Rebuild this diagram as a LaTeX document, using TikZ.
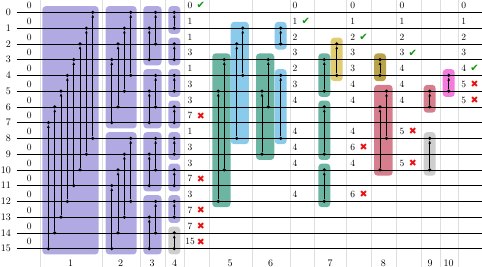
\documentclass[tikz,border=0pt]{standalone}
\usepackage{fontspec}
\newfontfamily\symf{DejaVu Sans}
\usetikzlibrary{arrows.meta}
\definecolor{cpur}{RGB}{176,169,226}
\definecolor{cgray}{RGB}{206,206,206}
\definecolor{cgreen}{RGB}{108,181,162}
\definecolor{cblue}{RGB}{138,202,234}
\definecolor{cyel}{RGB}{224,205,115}
\definecolor{coli}{RGB}{184,163,72}
\definecolor{crose}{RGB}{214,126,142}
\definecolor{cmag}{RGB}{244,122,222}
\definecolor{cgrid}{RGB}{222,222,222}
\definecolor{cok}{RGB}{10,150,10}
\definecolor{cno}{RGB}{235,15,15}
\newcommand\myblk[5]{\fill[#1,rounded corners=3.5pt] (#2,{12.4+15.75*(#4)-6.3}) rectangle (#3,{12.4+15.75*(#5)+5.8});}
\newcommand\mycmp[4]{\node[dotn] (#1t) at (#2,{12.4+15.75*(#3)}) {};
  \node[dotn] (#1b) at (#2,{12.4+15.75*(#4)}) {};
  \draw[cline] (#1b) -- (#1t);}
\newcommand\myvl[4]{\node[vtxt] (#1) at (#2,{12.4+15.75*(#3)-3.7}) {#4};}
\newcommand\markok[3]{\node[okm] (#1) at ({#2+10.8},{12.4+15.75*(#3)-3.5}) {✔};}
\newcommand\markno[3]{\node[nom] (#1) at ({#2+10.8},{12.4+15.75*(#3)-3.5}) {✖};}
\begin{document}
\begin{tikzpicture}[x=1pt,y=-1pt,
  wire/.style={line width=0.7pt, black},
  gridl/.style={line width=0.6pt, cgrid},
  dotn/.style={circle, fill=black, inner sep=0pt, minimum size=3.5pt},
  cline/.style={line width=0.95pt, -{Latex[length=3.3pt,width=2.9pt]}},
  vtxt/.style={inner sep=0pt, anchor=base, font=\fontsize{9.5}{11}\selectfont},
  okm/.style={inner sep=0pt, anchor=base, text=cok, font=\symf\fontsize{10}{11}\selectfont},
  nom/.style={inner sep=0pt, anchor=base, text=cno, font=\symf\fontsize{9.5}{11}\selectfont},
  wlab/.style={inner sep=0pt, anchor=east, font=\fontsize{10}{12}\selectfont},
  slab/.style={inner sep=0pt, anchor=base, font=\fontsize{10}{12}\selectfont}]
\useasboundingbox (0,0) rectangle (482,267);
% grid lines
\foreach \gx in {40,102.3,140,165.3,184.3,208.8,252,290.3,314.3,346.6,371.3,396,420.8,440,458.5}
  \draw[gridl] (\gx,0) -- (\gx,267);
% blocks
\myblk{cpur}{42.4}{98.7}{0}{15}
\myblk{cpur}{105.7}{136.7}{0}{7}
\myblk{cpur}{105.7}{136.7}{8}{15}
\foreach \b in {0,...,3} {\myblk{cpur}{143.3}{161.6}{4*\b}{4*\b+3}}
\foreach \b in {0,...,6} {\myblk{cpur}{168.3}{180.3}{2*\b}{2*\b+1}}
\myblk{cgray}{168.3}{180.3}{14}{15}
\myblk{cgreen}{212.3}{230.5}{3}{12}
\myblk{cblue}{230.7}{248.9}{1}{8}
\myblk{cgreen}{256}{274.3}{3}{9}
\myblk{cblue}{274.7}{286.7}{1}{2}
\myblk{cblue}{274.7}{286.7}{4}{8}
\myblk{cgreen}{318.3}{330.3}{3}{5}
\myblk{cgreen}{318.3}{330.3}{6}{9}
\myblk{cgreen}{318.3}{330.3}{10}{12}
\myblk{cyel}{330.7}{342.7}{2}{4}
\myblk{coli}{374}{386}{3}{4}
\myblk{crose}{374}{392.7}{5}{10}
\myblk{crose}{423.7}{435.7}{5}{6}
\myblk{cgray}{423.7}{435.7}{8}{10}
\myblk{cmag}{442.7}{454.7}{4}{5}
% wires
\foreach \i in {0,...,15} {
  \coordinate (ws\i) at (16.7,{12.4+15.75*\i});
  \coordinate (we\i) at (482,{12.4+15.75*\i});
  \draw[wire] (ws\i) -- (we\i);
  \node[wlab] (wl\i) at (11,{12.4+15.75*\i}) {\i};
  \myvl{vA\i}{29.3}{\i}{0}
}
% comparators
\foreach \k in {0,...,7} {
  \pgfmathsetmacro\xx{48.4+6.33*\k}
  \mycmp{a\k}{\xx}{7-\k}{15-\k}
}
\foreach \k in {0,...,3} {
  \pgfmathsetmacro\xx{111.7+6.33*\k}
  \mycmp{b\k}{\xx}{3-\k}{7-\k}
  \mycmp{bb\k}{\xx}{11-\k}{15-\k}
}
\foreach \b in {0,...,3} {
  \mycmp{cA\b}{149.3}{1+4*\b}{3+4*\b}
  \mycmp{cB\b}{155.6}{4*\b}{2+4*\b}
}
\foreach \b in {0,...,7} {\mycmp{d\b}{174.3}{2*\b}{2*\b+1}}
\mycmp{e1}{218.3}{5}{12}
\mycmp{e2}{224.3}{3}{10}
\mycmp{e3}{236.7}{2}{8}
\mycmp{e4}{242.7}{1}{4}
\mycmp{f1}{262}{5}{9}
\mycmp{f2}{268.3}{3}{6}
\mycmp{f3}{280.7}{1}{2}
\mycmp{f4}{280.7}{4}{8}
\mycmp{g1}{324.3}{3}{5}
\mycmp{g2}{324.3}{6}{9}
\mycmp{g3}{324.3}{10}{12}
\mycmp{g4}{336.7}{2}{4}
\mycmp{h1}{380}{3}{4}
\mycmp{h2}{380}{6}{10}
\mycmp{h3}{386.5}{5}{8}
\mycmp{i1}{429.7}{5}{6}
\mycmp{i2}{429.7}{8}{10}
\mycmp{j1}{448.7}{4}{5}
% value columns
\foreach \w/\t in {0/0,1/1,2/1,3/3,4/1,5/3,6/3,7/7,8/1,9/3,10/3,11/7,12/3,13/7,14/7,15/15} {\myvl{vB\w}{190}{\w}{\t}}
\markok{mB0}{190}{0}
\foreach \w in {7,11,13,14,15} {\markno{mB\w}{190}{\w}}
\foreach \w/\t in {0/0,1/1,2/2,3/3,4/2,5/3,6/4,8/4,9/4,10/4,12/4} {\myvl{vC\w}{295}{\w}{\t}}
\markok{mC1}{295}{1}
\foreach \w/\t in {0/0,1/1,2/2,3/3,4/3,5/4,6/4,8/4,9/6,10/4,12/6} {\myvl{vD\w}{352.7}{\w}{\t}}
\markok{mD2}{352.7}{2}
\foreach \w in {9,12} {\markno{mD\w}{352.7}{\w}}
\foreach \w/\t in {0/0,1/1,2/2,3/3,4/4,5/4,6/4,8/5,10/5} {\myvl{vE\w}{402}{\w}{\t}}
\markok{mE3}{402}{3}
\foreach \w in {8,10} {\markno{mE\w}{402}{\w}}
\foreach \w/\t in {0/0,1/1,2/2,3/3,4/4,5/5,6/5} {\myvl{vF\w}{463.7}{\w}{\t}}
\markok{mF4}{463.7}{4}
\foreach \w in {5,6} {\markno{mF\w}{463.7}{\w}}
% stage labels
\foreach \n/\sx in {1/70.7,2/120.7,3/152,4/174.7,5/230,6/270.7,7/330,8/383.3,9/430,10/448.7}
  \node[slab] (st\n) at (\sx,266.2) {\n};
\end{tikzpicture}
\end{document}
